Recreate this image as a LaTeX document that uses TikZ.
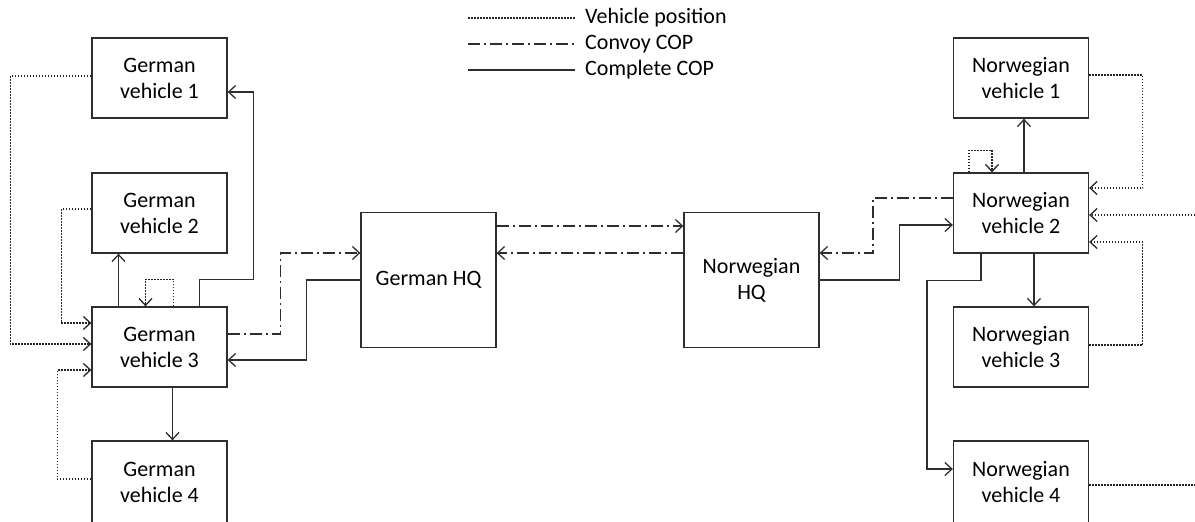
\documentclass[tikz,border=0pt]{standalone}
\usepackage{fontspec}
\setmainfont{Carlito}
\usetikzlibrary{arrows.meta}
\begin{document}
\begin{tikzpicture}[x=1pt,y=-1pt,
  line/.style={draw=black!82, line width=1.3pt},
  box/.style={line, rectangle, minimum width=135pt, minimum height=80pt,
    inner sep=0pt, align=center, font=\fontsize{22}{26}\selectfont},
  hq/.style={box, minimum height=135pt},
  tip/.style={-{Straight Barb[length=7pt,width=13pt]}},
  vpos/.style={draw=black!85, line width=1.3pt, dash pattern=on 1.5pt off 1.5pt},
  convoy/.style={line, dash pattern=on 12pt off 4pt on 2pt off 4pt},
  cop/.style={line},
  legtext/.style={anchor=west, inner sep=0pt, font=\fontsize{22}{26}\selectfont}]
\useasboundingbox (0,0) rectangle (1195,522);
\clip (0,0) rectangle (1195,522);

% German side
\node[box] (gv1) at (159.5,78)  {German\\vehicle 1};
\node[box] (gv2) at (159.5,213) {German\\vehicle 2};
\node[box] (gv3) at (159.5,347) {German\\vehicle 3};
\node[box, minimum height=82pt] (gv4) at (159.5,482) {German\\vehicle 4};
\node[hq] (ghq) at (428.5,280) {German HQ};

% Norwegian side
\node[hq] (nhq) at (751.5,280) {Norwegian\\HQ};
\node[box] (nv1) at (1021,78)  {Norwegian\\vehicle 1};
\node[box] (nv2) at (1021,213) {Norwegian\\vehicle 2};
\node[box] (nv3) at (1021,347) {Norwegian\\vehicle 3};
\node[box, minimum height=82pt] (nv4) at (1021,482) {Norwegian\\vehicle 4};

% free ends at the right margin
\coordinate (nin)  at (1195,215);
\coordinate (nout) at (1195,485);

% legend
\node[legtext] (l1) at (585,18) {Vehicle position};
\node[legtext] (l2) at (585,44) {Convoy COP};
\node[legtext] (l3) at (585,70) {Complete COP};
\draw[vpos]   ([xshift=-117pt]l1.west) -- ([xshift=-10pt]l1.west);
\draw[convoy] ([xshift=-117pt]l2.west) -- ([xshift=-10pt]l2.west);
\draw[cop]    ([xshift=-117pt]l3.west) -- ([xshift=-10pt]l3.west);

% vehicle positions, German side
\draw[vpos,tip] ([yshift=2pt]gv1.west) -- ++(-81,0) |- ([yshift=3pt]gv3.west);
\draw[vpos,tip] ([yshift=4pt]gv2.west) -- ++(-30,0) |- ([yshift=24pt]gv3.west);
\draw[vpos,tip] ([yshift=3pt]gv4.west) -- ++(-34,0) |- ([yshift=-23pt]gv3.west);
\draw[vpos,tip] ([xshift=14pt]gv3.north) -- ++(0,-27) -| ([xshift=-14pt]gv3.north);

% complete COP, German side
\draw[cop,tip] ([xshift=-41pt]gv3.north) -- ([xshift=-41pt]gv2.south);
\draw[cop,tip] ([xshift=40pt]gv3.north) |- ++(54,-27) |- ([yshift=-14pt]gv1.east);
\draw[cop,tip] ([xshift=13pt]gv3.south) -- ([xshift=13pt]gv4.north);
\draw[cop,tip] (ghq.west) -- ++(-54,0) |- ([yshift=-13pt]gv3.east);

% convoy COP
\draw[convoy,tip] ([yshift=13pt]gv3.east) -- ++(53,0) |- ([yshift=27pt]ghq.west);
\draw[convoy,tip] ([yshift=54pt]ghq.east) -- ([yshift=54pt]nhq.west);
\draw[convoy,tip] ([yshift=27pt]nhq.west) -- ([yshift=27pt]ghq.east);
\draw[convoy,tip] ([yshift=15pt]nv2.west) -- ++(-80,0) |- ([yshift=27pt]nhq.east);

% complete COP, Norwegian side
\draw[cop,tip] (nhq.east) -- ++(80,0) |- ([yshift=-12pt]nv2.west);
\draw[cop,tip] ([xshift=3pt]nv2.north) -- ([xshift=3pt]nv1.south);
\draw[cop,tip] ([xshift=13pt]nv2.south) -- ([xshift=13pt]nv3.north);
\draw[cop,tip] ([xshift=-40pt]nv2.south) |- ++(-54,27) |- ([yshift=13pt]nv4.west);

% vehicle positions, Norwegian side
\draw[vpos,tip] ([xshift=-52pt]nv2.north) -- ++(0,-22) -| ([xshift=-29pt]nv2.north);
\draw[vpos,tip] ([yshift=3pt]nv1.east) -- ++(53.5,0) |- ([yshift=25pt]nv2.east);
\draw[vpos,tip] (nin) -- ([yshift=-2pt]nv2.east);
\draw[vpos,tip] ([yshift=2pt]nv3.east) -- ++(53.5,0) |- ([yshift=-29pt]nv2.east);
\draw[vpos] ([yshift=-3pt]nv4.east) -- (nout);
\end{tikzpicture}
\end{document}
